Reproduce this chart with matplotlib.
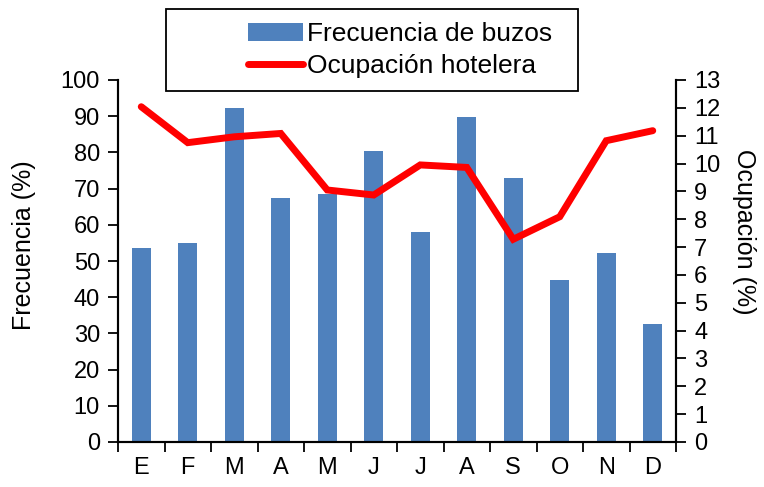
import matplotlib.pyplot as plt
from matplotlib.patches import Rectangle
import numpy as np

plt.rcParams['font.family'] = ['Liberation Sans', 'DejaVu Sans']

meses = ["E", "F", "M", "A", "M", "J", "J", "A", "S", "O", "N", "D"]
frecuencia = [53.6, 55.0, 92.4, 67.3, 68.6, 80.5, 58.0, 89.7, 73.0, 44.8, 52.3, 32.5]
ocupacion = [12.04, 10.75, 10.96, 11.08, 9.05, 8.87, 9.95, 9.86, 7.28, 8.09, 10.82, 11.18]

azul = "#4F81BD"
rojo = "#FF0000"

fig = plt.figure(figsize=(7.64, 4.87), dpi=100)
ax = fig.add_axes([118 / 764, 45 / 487, 558 / 764, 362 / 487])
ax2 = ax.twinx()

x = np.arange(len(meses))
barras = ax.bar(x, frecuencia, width=0.4, color=azul, zorder=2, label="Frecuencia de buzos")
linea, = ax2.plot(x, ocupacion, color=rojo, lw=5, solid_capstyle="round",
                  solid_joinstyle="miter", label="Ocupación hotelera")

ax.set_xlim(-0.5, 11.5)
ax.set_ylim(0, 100)
ax.set_yticks(range(0, 101, 10))
ax2.set_ylim(0, 13)
ax2.set_yticks(range(0, 14))

ax.set_xticks(x)
ax.set_xticklabels(meses)
ax.set_xticks(np.arange(-0.5, 12, 1), minor=True)
ax.tick_params(axis="x", which="major", length=0, pad=11, labelsize=17)
ax.tick_params(axis="x", which="minor", length=7, width=1.3, direction="out")
ax.tick_params(axis="y", length=7, width=1.3, direction="out", labelsize=17, pad=6)
ax2.tick_params(axis="y", length=7, width=1.3, direction="out", labelsize=17, pad=6)

for a in (ax, ax2):
    a.spines["top"].set_visible(False)
    for s in ("left", "right", "bottom"):
        a.spines[s].set_linewidth(1.5)

ax.set_ylabel("Frecuencia (%)", fontsize=18, va="center")
ax.yaxis.set_label_coords(-0.168, 0.545)
ax2.set_ylabel("Ocupación (%)", fontsize=18, rotation=270, va="center")
ax2.yaxis.set_label_coords(1.122, 0.58)

# caja de la leyenda
caja = Rectangle((166 / 764, 1 - 91 / 487), 412 / 764, 82 / 487, transform=fig.transFigure,
                 facecolor="white", edgecolor="black", lw=1.3, zorder=5)
fig.add_artist(caja)
leg = fig.legend([barras, linea], ["Frecuencia de buzos", "Ocupación hotelera"],
                 loc="center", bbox_to_anchor=(400 / 764, 1 - 50 / 487), frameon=False,
                 fontsize=19, handlelength=2.1, handletextpad=0.15, labelspacing=0.3)
leg.set_zorder(6)

fig.savefig("out.png", dpi=100)
